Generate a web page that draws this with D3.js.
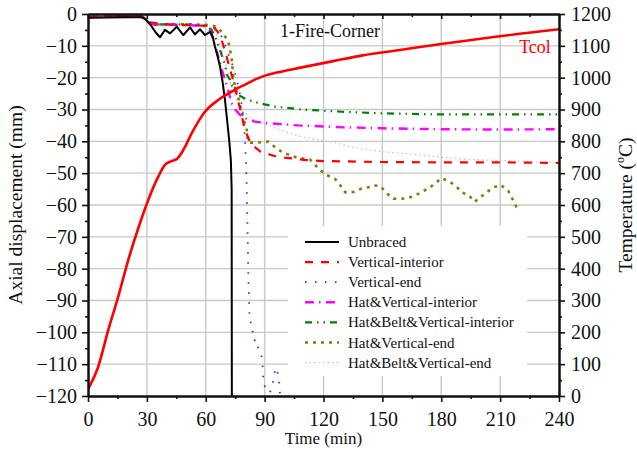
<!DOCTYPE html>
<html><head><meta charset="utf-8">
<script src="https://cdn.jsdelivr.net/npm/d3@7"></script>
<style>
body{margin:0;background:#fff;}
text{font-family:"Liberation Serif","Times New Roman",serif;fill:#111;}
</style></head>
<body><svg id="c" width="637" height="452"></svg>
<script>
// ---- data ----
const xTicks = [0,30,60,90,120,150,180,210,240];
const yLeftTicks = [0,-10,-20,-30,-40,-50,-60,-70,-80,-90,-100,-110,-120];
const yRightTicks = [0,100,200,300,400,500,600,700,800,900,1000,1100,1200];

const tcolT = [0,5.2,10.3,15.4,20.5,25.6,30.7,35.8,39.2,42.6,45.2,48.6,52.8,59.6,66.4,70,73.2,76,80,85,91,100,107,125,140,159,180,200,220,240];
const tcolV = [22,92,207,312,427,527,616,689,726,738,744,773,825,893,930,945,956,966,978,994,1008,1021,1030,1052,1070,1087,1106,1122,1138,1152];

const unbracedT = [0,10,20,27,28.5,30,32.5,34.5,36.7,39.2,41.8,45.2,48.6,52,54.5,57.1,59.6,62.2,63.5,64.7,66,67.3,68.5,69.8,71,72,72.8,73.2,73.3];
const unbracedD = [-1.2,-1.1,-1.0,-1.0,-1.3,-2.0,-4.0,-5.8,-7.3,-5.0,-6.1,-4.0,-6.6,-4.2,-6.4,-4.8,-6.6,-5.6,-7.0,-10.3,-13.2,-16.6,-21,-27,-34,-40,-46,-55,-120];

const viT = [0,10,20,26,28,30,32,35,40,50,60,64,66,68,70,72,74,76,78,80,83,88,95,100,110,120,150,180,210,240];
const viD = [-0.9,-0.7,-0.5,-0.4,-0.9,-2.0,-2.6,-2.9,-3.2,-3.5,-3.7,-4.2,-5.5,-8,-12,-16.5,-21,-26,-31,-36.5,-40.8,-43.3,-44.6,-45.1,-45.8,-46.2,-46.5,-46.6,-46.6,-46.8];

const veT = [0,10,20,26,28,30,32,35,45,55,62,65,68,70,72,74,76,78,79.5,80.0,80.3,80.6,80.9,81.2,81.5,81.7,82.0,82.2,82.5,83.7,84.0,85.6,84.2,86.3,87.3,88.1,88.7,89.2,89.3,90.8,92.5,93.8,94.6,95.6,96.8,97.5,97.8,98];
const veD = [-1.1,-0.9,-0.6,-0.5,-1.0,-2.2,-3.0,-3.4,-3.5,-3.6,-3.8,-4.5,-7,-10,-13.5,-16.5,-21,-27,-34,-40,-44,-48,-55,-65,-75,-82,-88,-93,-96.7,-97.2,-100.3,-101.6,-103.7,-104.5,-105.3,-105.9,-109,-112.4,-115.6,-118,-119,-117.5,-114.3,-111.1,-113,-116.1,-119.2,-120];

const hviT = [0,10,20,26,28,30,32,35,45,55,60,62,64,66.4,68,69.8,71.5,73.2,75,77.5,81,85,90,98.7,107,115.7,130,150,180,210,240];
const hviD = [-1.0,-0.8,-0.5,-0.4,-1.0,-2.4,-3.2,-3.5,-3.4,-3.6,-3.8,-5.0,-8.5,-13.4,-17,-20.7,-24.2,-28,-30,-31.7,-33,-33.8,-34.2,-34.6,-35,-35.2,-35.6,-35.9,-36.2,-36.3,-36.2];

const hbviT = [0,10,20,26,28,30,32,35,45,55,60,63,65,67.3,69.8,70.7,72.4,73.2,76.6,80,84.2,90,95.3,108.9,129.3,150,175,200,240];
const hbviD = [-1.0,-0.8,-0.5,-0.4,-1.0,-2.3,-3.0,-3.3,-3.2,-3.4,-3.6,-5.0,-7.5,-11.3,-16,-19,-20.7,-22.3,-25.4,-26.6,-27.5,-28.4,-29.1,-30,-30.7,-31.2,-31.5,-31.5,-31.5];

const hveT = [0,10,20,26,28,30,32,35,45,55,62,65.6,68.9,71.5,73.2,74,75,76.5,78,79.1,80.9,81.7,86,91.9,96.1,99.5,106.3,113.1,118.2,121.6,125.9,128.4,131,133.5,136,139.5,142.8,146.2,148.8,152.2,155.6,159,162.4,165.8,169.2,173.4,176.8,179.9,183.6,187.5,190.4,194.3,196.9,200.1,203.1,206.9,210.3,214.2,216.5,218.8];
const hveD = [-1.0,-0.8,-0.4,-0.3,-0.9,-2.2,-3.0,-3.3,-3.2,-3.3,-3.5,-4.0,-6.1,-8.7,-13.9,-19.7,-23,-26,-30,-32.8,-36.4,-40.4,-40.4,-40.1,-42.2,-43.6,-45.1,-45.7,-49,-50.6,-51.8,-53.7,-56,-56.1,-55.8,-54.8,-54.4,-53.9,-54,-56.3,-58,-58.1,-57.9,-57.3,-56.2,-54.8,-53.3,-51.6,-52.4,-54,-56,-57.1,-59,-57.5,-56,-54.4,-53.7,-55.6,-58.4,-61.3];

const hbveT = [0,10,20,26,28,30,32,35,45,55,60,63,65,67,69,71,73,75,77,78.3,83.4,88.5,93.6,100.4,107.2,115.7,125.9,133.5,140.3,150.5,160.7,174.3,191.2,203.1,213.3,225.2,238.8];
const hbveD = [-1.0,-0.8,-0.5,-0.4,-1.0,-2.3,-3.1,-3.4,-3.3,-3.5,-3.7,-4.5,-6,-9,-13,-18,-22.5,-26,-28.8,-30.2,-32.8,-34.3,-35.4,-37,-38.3,-39.4,-40.4,-41.7,-42.4,-43.3,-43.8,-44.6,-45.6,-45.9,-46.1,-46.4,-46.7];

const seriesNames = ["Unbraced","Vertical-interior","Vertical-end","Hat&Vertical-interior","Hat&Belt&Vertical-interior","Hat&Vertical-end","Hat&Belt&Vertical-end"];

// ---- chart ----
const svg = d3.select("#c");
const L=88,R=559,T=14,B=396;
const x = d3.scaleLinear().domain([0,240]).range([L,R]);
const yL = d3.scaleLinear().domain([-120,0]).range([B,T]);
const yR = d3.scaleLinear().domain([0,1200]).range([B,T]);

const series = [
  {t:unbracedT,d:unbracedD,color:"#000",w:2,dash:null},
  {t:viT,d:viD,color:"#ff0000",w:2.2,dash:"8,8"},
  {t:veT,d:veD,color:"#2a2aff",w:1.8,dash:"1.5,8.5"},
  {t:hviT,d:hviD,color:"#ff00ff",w:2.4,dash:"9,5,1.5,5.5"},
  {t:hbviT,d:hbviD,color:"#008000",w:2.2,dash:"7,5,1.5,5,1.5,5"},
  {t:hveT,d:hveD,color:"#808000",w:2.6,dash:"3,5"},
  {t:hbveT,d:hbveD,color:"#eeb0b8",w:1.3,dash:"1.5,3"}
];

// grid
const g = svg.append("g");
xTicks.slice(1,-1).forEach(v=>g.append("line").attr("x1",x(v)).attr("x2",x(v)).attr("y1",T).attr("y2",B).attr("stroke","#c8c8c8").attr("stroke-width",1.4));
yLeftTicks.slice(1,-1).forEach(v=>g.append("line").attr("x1",L).attr("x2",R).attr("y1",yL(v)).attr("y2",yL(v)).attr("stroke","#c8c8c8").attr("stroke-width",1.4));

svg.append("clipPath").attr("id","clip").append("rect").attr("x",L).attr("y",T).attr("width",R-L).attr("height",B-T);
const plot = svg.append("g").attr("clip-path","url(#clip)");

const lineD = d3.line().x(p=>x(p[0])).y(p=>yL(p[1]));
series.slice().reverse().forEach(s=>{
  const pts = s.t.map((t,i)=>[t,s.d[i]]);
  plot.append("path").attr("d",lineD(pts)).attr("fill","none").attr("stroke",s.color)
    .attr("stroke-width",s.w).attr("stroke-dasharray",s.dash).attr("stroke-linejoin","round");
});
const lineT = d3.line().x(p=>x(p[0])).y(p=>yR(p[1])).curve(d3.curveMonotoneX);
plot.append("path").attr("d",lineT(tcolT.map((t,i)=>[t,tcolV[i]]))).attr("fill","none").attr("stroke","#ff0000").attr("stroke-width",2.6);

// legend
svg.append("rect").attr("x",288).attr("y",226).attr("width",239).attr("height",150).attr("fill","#fff");
series.forEach((s,i)=>{
  const yy = 242 + i*20.1;
  svg.append("line").attr("x1",305).attr("x2",339).attr("y1",yy).attr("y2",yy).attr("stroke",s.color)
    .attr("stroke-width",s.w).attr("stroke-dasharray",s.dash);
  svg.append("text").attr("x",348).attr("y",yy+5).attr("font-size",15).text(seriesNames[i]);
});

// axes
function styleAxis(sel){ sel.selectAll(".domain").attr("stroke","#111").attr("stroke-width",2);
  sel.selectAll(".tick line").attr("stroke","#111").attr("stroke-width",1.6);
  sel.selectAll("text").attr("font-size",20).attr("font-family","Liberation Serif, Times New Roman, serif").attr("fill","#111"); }
const minorX = d3.range(15,240,30);
const minorY = d3.range(-115,0,10);
const minorR = d3.range(50,1200,100);
const fmtMinus = d => d < 0 ? "\u2212" + Math.abs(d) : String(d);

svg.append("g").attr("transform",`translate(0,${B})`).call(d3.axisBottom(x).tickValues(xTicks).tickSize(6).tickSizeOuter(0).tickPadding(10).tickFormat(d3.format("d"))).call(styleAxis);
svg.append("g").attr("transform",`translate(0,${B})`).call(d3.axisBottom(x).tickValues(minorX).tickSize(3).tickSizeOuter(0).tickFormat("")).call(styleAxis);
svg.append("g").attr("transform",`translate(0,${T})`).call(d3.axisTop(x).tickValues(xTicks).tickSize(-5).tickSizeOuter(0).tickFormat("")).call(styleAxis);
svg.append("g").attr("transform",`translate(0,${T})`).call(d3.axisTop(x).tickValues(minorX).tickSize(-3).tickSizeOuter(0).tickFormat("")).call(styleAxis);
svg.append("g").attr("transform",`translate(${L},0)`).call(d3.axisLeft(yL).tickValues(yLeftTicks).tickSize(6).tickSizeOuter(0).tickPadding(5).tickFormat(fmtMinus)).call(styleAxis);
svg.append("g").attr("transform",`translate(${L},0)`).call(d3.axisLeft(yL).tickValues(minorY).tickSize(3).tickSizeOuter(0).tickFormat("")).call(styleAxis);
svg.append("g").attr("transform",`translate(${R},0)`).call(d3.axisRight(yR).tickValues(yRightTicks).tickSize(6).tickSizeOuter(0).tickPadding(6).tickFormat(d3.format("d"))).call(styleAxis);
svg.append("g").attr("transform",`translate(${R},0)`).call(d3.axisRight(yR).tickValues(minorR).tickSize(3).tickSizeOuter(0).tickFormat("")).call(styleAxis);

// titles
svg.append("text").attr("x",330).attr("y",37).attr("text-anchor","middle").attr("font-size",18).text("1-Fire-Corner");
svg.append("text").attr("x",535).attr("y",53).attr("text-anchor","middle").attr("font-size",18).style("fill","#ff0000").text("Tcol");
svg.append("text").attr("x",(L+R)/2).attr("y",444).attr("text-anchor","middle").attr("font-size",17).text("Time (min)");
svg.append("text").attr("transform",`translate(22,${(T+B)/2}) rotate(-90)`).attr("text-anchor","middle").attr("font-size",19.5).text("Axial displacement (mm)");
const tt = svg.append("text").attr("transform",`translate(632,${(T+B)/2}) rotate(-90)`).attr("text-anchor","middle").attr("font-size",19.5);
tt.append("tspan").text("Temperature (");
tt.append("tspan").attr("font-size",12).attr("dy",-8).text("o");
tt.append("tspan").attr("dy",8).text("C)");
</script></body></html>
